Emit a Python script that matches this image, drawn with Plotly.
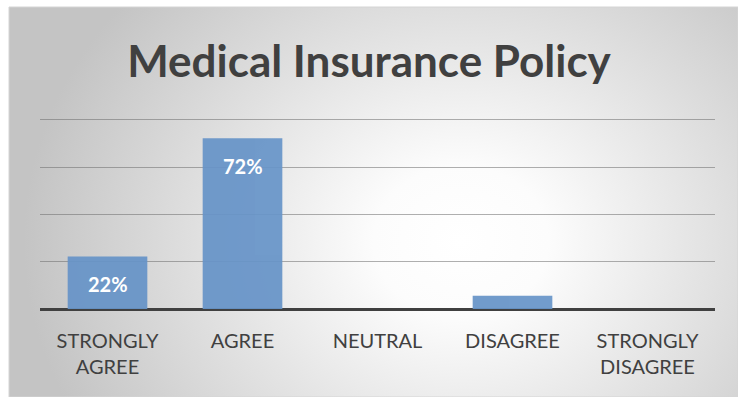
import base64
import plotly.graph_objects as go

categories = ["STRONGLY<br>AGREE", "AGREE", "NEUTRAL", "DISAGREE", "STRONGLY<br>DISAGREE"]
values = [22.2, 72.2, 0, 5.6, 0]
shown_labels = ["22%", "72%", "", "", ""]
title_text = "Medical Insurance Policy"

W, H = 738, 397
ml, mr, mt, mb = 40, 23, 115, 88
pw, ph = W - ml - mr, H - mt - mb

svg = f'''<svg xmlns="http://www.w3.org/2000/svg" width="{W}" height="{H}" viewBox="0 0 {W} {H}">
<defs><radialGradient id="g" cx="0.62" cy="0.6" r="0.6" gradientUnits="objectBoundingBox" gradientTransform="translate(0.62 0.6) scale(1 1.6) translate(-0.62 -0.6)">
<stop offset="0" stop-color="#ffffff"/><stop offset="0.2" stop-color="#fcfcfc"/><stop offset="1" stop-color="#c4c4c4"/></radialGradient></defs>
<rect x="0" y="0" width="{W}" height="{H}" fill="url(#g)"/></svg>'''
src = "data:image/svg+xml;base64," + base64.b64encode(svg.encode()).decode()

fx0, fy0 = 9, 7
img_x = (fx0 - ml) / pw
img_y = (H - mb - fy0) / ph  # top in paper coords
img_w = (W - fx0) / pw
img_h = (H - fy0) / ph

fig = go.Figure()
fig.add_trace(go.Bar(
    x=categories, y=values,
    marker=dict(color="#6794c8", line=dict(width=0)),
    opacity=0.93,
    width=0.59,
    hoverinfo="skip",
))

for c, v, lab in zip(categories, values, shown_labels):
    if lab:
        fig.add_annotation(x=c, y=v, text=f"<b>{lab}</b>", showarrow=False,
                           yanchor="middle", yshift=-28,
                           font=dict(family="Lato", size=20, color="white"))

fig.update_layout(
    width=W, height=H,
    margin=dict(l=ml, r=mr, t=mt, b=mb),
    paper_bgcolor="white",
    plot_bgcolor="rgba(0,0,0,0)",
    showlegend=False,
    images=[dict(source=src, xref="paper", yref="paper", x=img_x, y=img_y,
                 sizex=img_w, sizey=img_h, xanchor="left", yanchor="top",
                 sizing="stretch", layer="below")],
    shapes=[dict(type="rect", xref="paper", yref="paper", x0=img_x, y0=img_y - img_h,
                 x1=img_x + img_w, y1=img_y, line=dict(color="#d4d4d4", width=1),
                 layer="below")],
    title=dict(text=f"<b>{title_text}</b>", x=0.5, xanchor="center",
               y=1 - 62 / H, yanchor="middle",
               font=dict(family="Lato", size=44, color="#404040")),
    bargap=0.41,
)
fig.update_xaxes(tickfont=dict(family="Lato", size=20, color="#404040"),
                 showline=False, ticks="", showgrid=False, ticklabelstandoff=18)
fig.update_yaxes(range=[0, 82], tickvals=[0, 20, 40, 60, 80], showticklabels=False,
                 showgrid=True, gridcolor="rgba(110,110,110,0.55)", gridwidth=1,
                 zeroline=True, zerolinecolor="#404040", zerolinewidth=3)

fig.write_html("out.html")
